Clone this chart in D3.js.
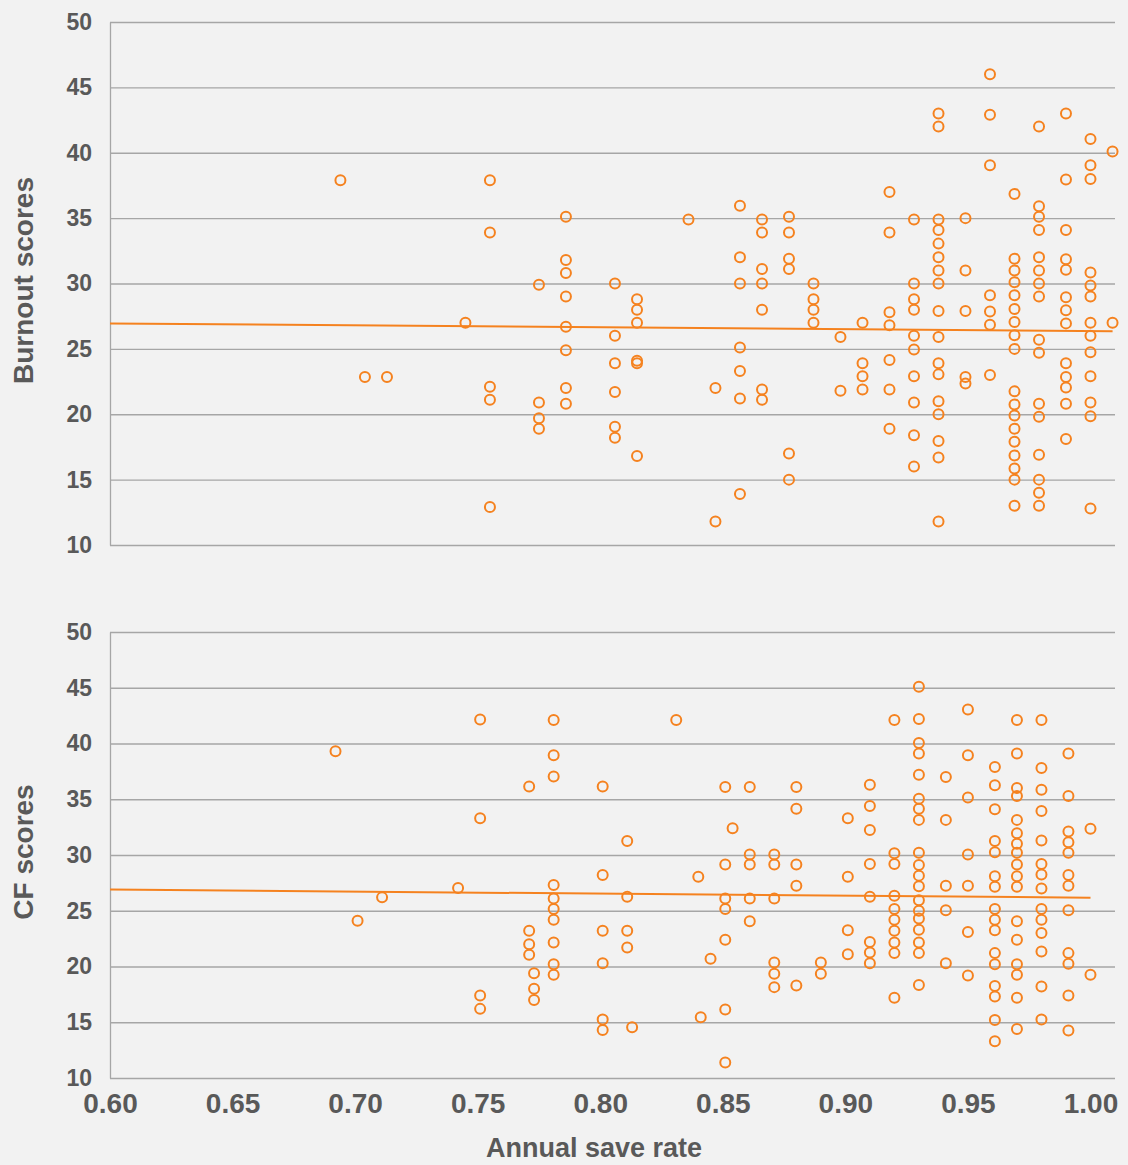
<!DOCTYPE html>
<html>
<head>
<meta charset="utf-8">
<script src="https://d3js.org/d3.v7.min.js"></script>
<style>
  body { margin: 0; background: #f2f2f2; }
  text { font-family: "Liberation Sans", Arial, sans-serif; font-weight: bold; fill: #595959; }
</style>
</head>
<body>
<div id="chart-area"></div>
<script>
// tick values
const rateTicks = [0.60, 0.65, 0.70, 0.75, 0.80, 0.85, 0.90, 0.95, 1.00]
const scoreTicks = [10, 15, 20, 25, 30, 35, 40, 45, 50]

// Burnout panel: one rate per column, scores read per column
const burnoutRate = [0.694, 0.704, 0.713, 0.745, 0.755, 0.775, 0.786, 0.806, 0.815, 0.836,
  0.847, 0.857, 0.866, 0.877, 0.887, 0.898, 0.907, 0.918, 0.928, 0.938, 0.949, 0.959,
  0.969, 0.979, 0.990, 1.000, 1.009]
const burnoutScores = [
  [37.9],
  [22.85],
  [22.85],
  [27.0],
  [37.9, 33.9, 22.1, 21.1, 12.9],
  [29.9, 20.9, 19.7, 18.9],
  [35.1, 31.8, 30.8, 29.0, 26.7, 24.9, 22.0, 20.8],
  [30.0, 26.0, 23.9, 21.7, 19.05, 18.2],
  [28.8, 28.0, 27.0, 24.1, 23.9, 16.8],
  [34.9],
  [22.0, 11.8],
  [35.95, 32.0, 30.0, 25.1, 23.3, 21.2, 13.9],
  [34.9, 33.9, 31.1, 30.0, 28.0, 21.9, 21.1],
  [35.1, 33.9, 31.9, 31.1, 17.0, 15.0],
  [30.0, 28.8, 28.0, 27.0],
  [25.9, 21.8],
  [27.0, 23.9, 22.9, 21.9],
  [37.0, 33.9, 27.8, 26.8, 24.15, 21.9, 18.9],
  [34.9, 30.0, 28.8, 28.0, 26.0, 24.95, 22.9, 20.9, 18.4, 16.0],
  [43.0, 42.0, 34.9, 34.1, 33.05, 32.0, 31.0, 30.0, 27.9, 25.9, 23.9, 23.05, 21.0, 20.0, 17.95, 16.7, 11.8],
  [35.0, 31.0, 27.9, 22.85, 22.35],
  [46.0, 42.9, 39.05, 29.1, 27.85, 26.85, 23.0],
  [36.85, 31.9, 31.0, 30.1, 29.1, 28.05, 27.05, 26.05, 25.0, 21.75, 20.75, 19.9, 18.9, 17.9, 16.85, 15.85, 15.0, 13.0],
  [42.0, 35.9, 35.1, 34.1, 32.0, 31.0, 30.0, 29.0, 25.7, 24.7, 20.8, 19.8, 16.9, 15.0, 14.0, 13.0],
  [43.0, 37.95, 34.1, 31.85, 31.05, 28.95, 27.95, 26.95, 23.9, 22.85, 22.05, 20.8, 18.1],
  [41.05, 39.05, 38.0, 30.85, 29.85, 29.0, 27.0, 26.0, 24.75, 22.9, 20.9, 19.85, 12.8],
  [40.1, 27.0]
]
const burnoutTrend = [[0.60, 26.95], [1.009, 26.35]]

// CF panel
const cfRate = [0.692, 0.701, 0.711, 0.742, 0.751, 0.771, 0.773, 0.781, 0.801, 0.811, 0.813,
  0.831, 0.840, 0.841, 0.845, 0.851, 0.854, 0.861, 0.871, 0.880, 0.890, 0.901, 0.910,
  0.920, 0.930, 0.941, 0.950, 0.961, 0.970, 0.980, 0.991, 1.000]
const cfScores = [
  [39.3],
  [24.1],
  [26.2],
  [27.05],
  [42.15, 33.3, 17.4, 16.2],
  [36.15, 23.2, 22.0, 21.05],
  [19.4, 18.0, 17.0],
  [42.1, 38.95, 37.05, 27.3, 26.1, 25.15, 24.2, 22.15, 20.2, 19.25],
  [36.15, 28.2, 23.2, 20.3, 15.25, 14.3],
  [31.25, 26.25, 23.2, 21.7],
  [14.55],
  [42.1],
  [28.05],
  [15.45],
  [20.7],
  [36.1, 29.15, 26.1, 25.15, 22.4, 16.15, 11.4],
  [32.4],
  [36.1, 30.05, 29.15, 26.1, 24.05],
  [30.05, 29.15, 26.1, 20.35, 19.35, 18.15],
  [36.1, 34.15, 29.15, 27.25, 18.3],
  [20.35, 19.35],
  [33.3, 28.05, 23.25, 21.1],
  [36.3, 34.4, 32.25, 29.2, 26.25, 22.2, 21.25, 20.3],
  [42.1, 30.15, 29.2, 26.35, 25.15, 24.2, 23.2, 22.15, 21.2, 17.2],
  [45.1, 42.2, 40.05, 39.1, 37.2, 35.05, 34.15, 33.15, 30.2, 29.1, 28.15, 27.2, 25.95, 25.0, 24.3, 23.3, 22.15, 21.2, 18.35],
  [37.0, 33.15, 27.25, 25.05, 20.3],
  [43.05, 38.95, 35.15, 30.05, 27.25, 23.1, 19.2],
  [37.9, 36.25, 34.1, 31.25, 30.25, 28.1, 27.15, 25.15, 24.2, 23.25, 21.2, 20.2, 18.25, 17.3, 15.2, 13.3],
  [42.1, 39.1, 36.0, 35.3, 33.15, 31.95, 31.0, 30.2, 29.15, 28.1, 27.15, 24.05, 22.4, 20.2, 19.25, 17.2, 14.4],
  [42.1, 37.8, 35.85, 33.95, 31.3, 29.2, 28.25, 27.0, 25.15, 24.2, 23.0, 21.35, 18.2, 15.25],
  [39.1, 35.3, 32.1, 31.15, 30.2, 28.2, 27.25, 25.05, 21.2, 20.25, 17.4, 14.25],
  [32.35, 19.25]
]
const cfTrend = [[0.60, 26.9], [1.000, 26.17]]

const WIDTH = 1128
const HEIGHT = 1165
const LEFT = 110
const RIGHT = 1115
const ORANGE = "#f5821f"
const GRID = "#a6a6a6"

const svg = d3.select("#chart-area").append("svg")
  .attr("width", WIDTH)
  .attr("height", HEIGHT)

svg.append("rect")
  .attr("width", WIDTH)
  .attr("height", HEIGHT)
  .attr("fill", "#f2f2f2")

const x = d3.scaleLinear()
  .domain([0.60, 1.01])
  .range([LEFT, RIGHT])

function drawPanel(top, bottom, rates, scores, trend, title) {
  const y = d3.scaleLinear()
    .domain([10, 50])
    .range([bottom, top])

  const points = []
  rates.forEach(function(r, i) {
    scores[i].forEach(function(s) { points.push({ rate: r, score: s }) })
  })

  const yAxisCall = d3.axisLeft(y)
    .tickValues(scoreTicks)
    .tickSize(-(RIGHT - LEFT))
    .tickSizeOuter(0)
    .tickPadding(18)
  const ya = svg.append("g")
    .attr("class", "y axis")
    .attr("transform", "translate(" + LEFT + ", 0)")
    .call(yAxisCall)
  ya.select(".domain").attr("stroke", GRID).attr("stroke-width", 1.3)
  ya.selectAll(".tick line").attr("stroke", GRID).attr("stroke-width", 1.3)
  ya.selectAll("text")
    .attr("font-size", "23px")
    .attr("fill", "#595959")
    .style("font-family", "'Liberation Sans', Arial, sans-serif")

  // Y label
  svg.append("text")
    .attr("transform", "translate(33, " + ((top + bottom) / 2 - 3) + ") rotate(-90)")
    .attr("text-anchor", "middle")
    .attr("font-size", "28px")
    .text(title)

  // trend line
  const line = d3.line()
    .x(function(d) { return x(d[0]) })
    .y(function(d) { return y(d[1]) })
  svg.append("path")
    .datum(trend)
    .attr("d", line)
    .attr("fill", "none")
    .attr("stroke", ORANGE)
    .attr("stroke-width", 2)

  svg.append("g").selectAll("circle")
    .data(points)
    .enter().append("circle")
      .attr("cx", function(d) { return x(d.rate) })
      .attr("cy", function(d) { return y(d.score) })
      .attr("r", 5)
      .attr("fill", "none")
      .attr("stroke", ORANGE)
      .attr("stroke-width", 2)
}

drawPanel(22, 545, burnoutRate, burnoutScores, burnoutTrend, "Burnout scores")
drawPanel(632, 1078, cfRate, cfScores, cfTrend, "CF scores")

// X axis (bottom panel only)
const xAxisCall = d3.axisBottom(x)
  .tickValues(rateTicks)
  .tickSize(0)
  .tickPadding(15)
  .tickFormat(d3.format(".2f"))
const xa = svg.append("g")
  .attr("class", "x axis")
  .attr("transform", "translate(0, 1078)")
  .call(xAxisCall)
xa.select(".domain").remove()
xa.selectAll("text")
  .attr("font-size", "28px")
  .attr("fill", "#595959")
  .style("font-family", "'Liberation Sans', Arial, sans-serif")

// X label
svg.append("text")
  .attr("x", 594)
  .attr("y", 1157)
  .attr("text-anchor", "middle")
  .attr("font-size", "27px")
  .text("Annual save rate")
</script>
</body>
</html>
